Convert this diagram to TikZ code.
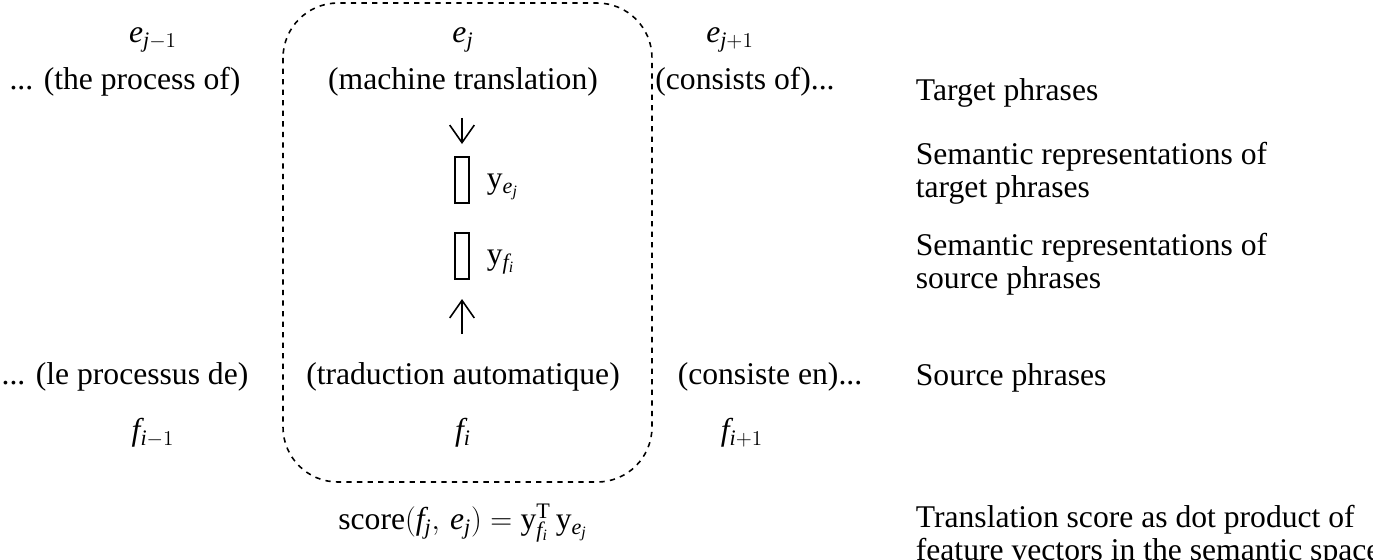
\documentclass[tikz,border=0pt]{standalone}
\usepackage{fontspec}
\setmainfont{Liberation Serif}
\usetikzlibrary{arrows.meta}

\begin{document}
\begin{tikzpicture}[x=0.02cm,y=-0.02cm,
    every node/.style={font=\fontsize{18}{19}\selectfont, inner sep=2pt},
    word/.style={anchor=center},
    note/.style={anchor=west, align=left},
    vecbox/.style={draw, line width=0.8pt, minimum width=0.28cm, minimum height=0.92cm, inner sep=0pt},
    arr/.style={-{Straight Barb[length=10pt,width=14pt]}, line width=0.9pt}]

\useasboundingbox (0,0) rectangle (1373,559);

% ===== Khung nét đứt =====
\draw[dashed, line width=0.9pt, rounded corners=1.1cm] (283,3) rectangle (652,482);

% ===== Cụm đích =====
\node[word] (ejm) at (153,40) {$\mathit{e}_{\mathit{j}-1}$};
\node[word] (ej) at (463,40) {$\mathit{e}_{\mathit{j}}$};
\node[word] (ejp) at (730,40) {$\mathit{e}_{\mathit{j}+1}$};
\node[word] (tl) at (125,82) {... (the process of)};
\node[word] (tc) at (463,82) {(machine translation)};
\node[word] (tr) at (745,82) {(consists of)...};

% ===== Véc-tơ ngữ nghĩa =====
\node[vecbox] (ye) at (462,180) {};
\node[vecbox] (yf) at (462,256) {};
\node[anchor=west] (yel) at (483,187) {$\mathrm{y}_{\mathit{e}_{\mathit{j}}}$};
\node[anchor=west] (yfl) at (483,262) {$\mathrm{y}_{\mathit{f}_{\mathit{i}}}$};

% ===== Cụm nguồn =====
\node[word] (sl) at (125,377) {... (le processus de)};
\node[word] (sc) at (463,377) {(traduction automatique)};
\node[word] (sr) at (770,377) {(consiste en)...};
\node[word] (fim) at (153,433) {$\mathit{f}_{\mathit{i}-1}$};
\node[word] (fi) at (463,433) {$\mathit{f}_{\mathit{i}}$};
\node[word] (fip) at (742,433) {$\mathit{f}_{\mathit{i}+1}$};

% ===== Mũi tên =====
\draw[arr, shorten <=10pt, shorten >=7pt] (tc.south -| ye) -- (ye.north);
\draw[arr, shorten <=14pt, shorten >=11pt] (sc.north -| yf) -- (yf.south);

% ===== Điểm số =====
\node[word] (score) at (463,523) {score$(\mathit{f}_{\mathit{j}},\, \mathit{e}_{\mathit{j}}) = \mathrm{y}_{\mathit{f}_{\mathit{i}}}^{\mathrm{T}}\,\mathrm{y}_{\mathit{e}_{\mathit{j}}}$};

% ===== Chú thích =====
\node[note] (n1) at (912,93) {Target phrases};
\node[note] (n2) at (912,173) {Semantic representations of\\target phrases};
\node[note] (n3) at (912,264) {Semantic representations of\\source phrases};
\node[note] (n4) at (912,378) {Source phrases};
\node[note] (n5) at (912,536) {Translation score as dot product of\\feature vectors in the semantic space};

\end{tikzpicture}
\end{document}
